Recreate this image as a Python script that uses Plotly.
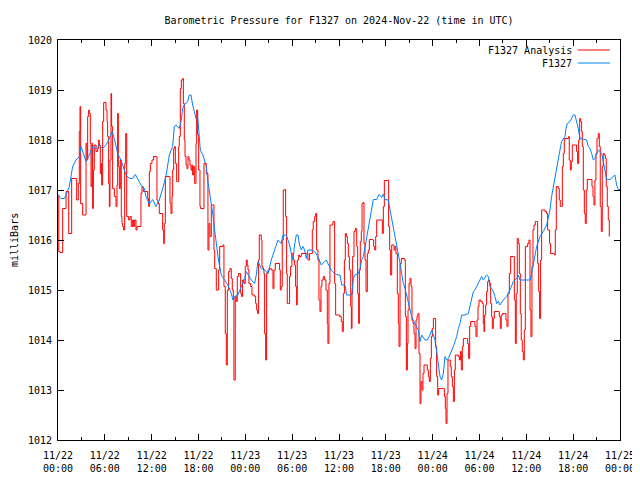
import pandas as pd
import plotly.graph_objects as go

# ---------------- data (hours after 2024-11-22 00:00 UTC, millibars) ----------------
analysis_hours = [
    0.0, 0.1, 0.26, 0.6, 1.03, 1.37, 1.75, 2.39, 2.6, 2.73, 2.82, 2.9, 3.16, 3.59, 3.71, 3.8, 3.93, 4.01,
    4.14, 4.23, 4.36, 4.44, 4.53, 4.65, 4.87, 5.08, 5.21, 5.29, 5.42, 5.51, 5.59, 5.72, 5.85, 6.15,
    6.28, 6.36, 6.49, 6.58, 6.66, 6.79, 6.87, 7.0, 7.22, 7.43, 7.56, 7.64, 7.73, 7.86, 7.98, 8.11,
    8.2, 8.28, 8.41, 8.54, 8.67, 8.8, 9.05, 9.22, 9.39, 9.56, 9.69, 9.82, 9.99, 10.12, 10.5, 10.63,
    10.76, 10.93, 11.49, 11.61, 11.7, 11.83, 12.04, 12.25, 12.55, 12.68, 12.81, 12.98, 13.32, 13.41,
    13.54, 13.62, 13.75, 14.26, 14.35, 14.47, 14.6, 14.69, 14.82, 14.94, 15.03, 15.2, 15.37, 15.46,
    15.54, 15.67, 15.8, 15.97, 16.06, 16.18, 16.27, 16.4, 16.52, 16.65, 16.78, 16.91, 17.04, 17.16,
    17.25, 17.38, 17.51, 17.68, 17.76, 17.89, 18.02, 18.19,
    18.27, 18.7, 19.0, 19.21, 19.34, 19.47, 19.64, 19.98, 20.07, 20.28, 20.58, 20.71, 21.13, 21.26,
    21.43, 21.56, 21.69, 21.86, 22.03, 22.2, 22.33, 22.46, 22.54, 22.71, 22.84, 22.97, 23.14, 23.4,
    23.52, 23.65, 23.82, 23.99, 24.12, 24.25, 24.34, 24.46, 24.68, 24.85, 25.19, 25.32, 25.45, 25.57,
    25.7, 25.79, 26.04, 26.13, 26.26, 26.38, 26.47, 26.6, 26.73, 26.9, 27.11, 27.32, 27.54, 27.67,
    27.84, 28.39, 28.48, 28.6, 28.73, 28.86, 29.03, 29.16, 29.29, 29.37, 29.54, 29.67, 29.8, 29.97,
    30.14, 30.31, 30.44, 30.57, 30.65, 30.83, 30.95, 31.17, 31.81, 32.02, 32.23, 32.45, 32.58, 32.7,
    32.88, 33.0, 33.13, 33.3, 33.43, 33.56, 33.69, 33.81, 33.98, 34.16, 34.33, 34.5, 34.58, 34.71,
    34.84, 35.01, 35.22, 35.35, 35.44, 35.57, 36.08, 36.29, 36.42,
    36.56, 36.69, 36.81, 36.94, 37.07, 37.2, 37.33, 37.5, 37.58, 37.67, 37.75, 37.92, 38.09, 38.27,
    38.39, 38.52, 38.61, 38.73, 38.86, 38.95, 39.08, 39.2, 39.33, 39.46, 39.63, 39.76, 39.89, 40.31,
    40.44, 40.57, 40.7, 40.83, 41.42, 41.55, 41.68, 41.81, 42.24, 42.36, 42.49, 42.62, 42.75, 43.05,
    43.18, 43.3, 43.47, 43.6, 43.69, 43.82, 43.99, 44.37, 44.5, 44.63, 44.76, 44.84, 44.97, 45.1,
    45.23, 45.35, 45.48, 45.61, 45.74, 45.87, 45.99, 46.12, 46.25, 46.38, 46.5, 46.63, 46.76, 46.89,
    47.15, 47.32, 47.45, 47.57, 47.7, 47.83, 47.96, 48.09, 48.3, 48.38, 48.51, 48.64, 48.77, 49.37,
    49.5, 49.62, 49.71, 49.84, 49.96, 50.14, 50.26, 50.39, 50.52, 50.65, 50.78, 50.9, 51.29, 51.42,
    51.55, 51.67, 51.8, 51.93, 52.36, 52.48, 52.61, 52.74, 52.87, 53.3, 53.42, 53.55, 53.68, 53.81,
    53.94, 54.15, 54.36, 54.49, 54.57,
    54.66, 54.79, 54.91, 55.04, 55.17, 55.3, 55.43, 55.55, 55.64, 55.77, 55.9, 56.41, 56.54, 56.66,
    56.79, 56.96, 57.26, 57.39, 57.52, 57.65, 57.82, 57.99, 58.33, 58.46, 58.59, 58.71, 58.84, 58.97,
    59.1, 59.23, 59.35, 59.48, 59.61, 59.74, 59.87, 60.17, 60.34, 60.47, 60.59, 60.72, 60.85, 60.98,
    61.15, 61.32, 61.45, 61.58, 61.7, 61.83, 61.96, 62.39, 62.6, 62.73, 62.98, 63.11, 63.45, 63.58,
    63.71, 63.84, 64.09, 64.22, 64.35, 64.48, 64.61, 64.74, 64.86, 65.42, 65.5, 65.63, 65.76, 65.89,
    66.31, 66.44, 66.57, 66.7, 66.83, 66.96, 67.08, 67.17, 67.3, 67.43, 67.55, 67.68, 67.81, 68.28,
    68.41, 68.54, 68.66, 68.79, 68.92, 69.05, 69.22, 69.35, 69.47, 69.6, 69.73, 69.86, 69.99, 70.12,
    70.24, 70.37, 70.5, 70.63,
]
analysis_mb = [
    1016.9, 1015.77, 1015.75, 1016.63, 1016.97, 1016.13, 1017.23, 1016.8, 1017.13, 1018.17, 1018.67, 1016.73, 1016.5, 1017.93, 1017.6, 1018.47, 1018.6, 1018.53,
    1017.93, 1017.07, 1017.93, 1016.63, 1017.4, 1017.9, 1017.77, 1017.83, 1018.0, 1017.9, 1017.33, 1017.53, 1017.1, 1018.37, 1018.75, 1018.6,
    1018.37, 1018.07, 1017.13, 1016.67, 1017.6, 1018.93, 1018.27, 1017.03, 1016.87, 1016.67, 1017.1, 1018.53, 1017.47, 1017.03, 1017.6, 1016.47,
    1016.33, 1016.27, 1016.2, 1017.53, 1018.13, 1016.47, 1016.4, 1016.47, 1016.27, 1016.4, 1016.27, 1016.4, 1016.2, 1016.27, 1016.27, 1016.93,
    1017.07, 1016.97, 1016.83, 1016.67, 1017.37, 1017.53, 1017.6, 1017.67, 1017.67, 1016.8, 1016.73, 1016.53, 1016.53, 1016.2,
    1015.93, 1016.33, 1017.27, 1017.27, 1016.73, 1016.53, 1016.87, 1017.4, 1017.83, 1017.87, 1017.53, 1017.17, 1017.17, 1017.87,
    1018.07, 1019.03, 1019.2, 1019.23, 1018.73, 1018.0, 1017.67, 1017.5, 1017.43, 1017.67, 1017.6, 1017.5, 1017.4, 1017.5,
    1017.3, 1017.47, 1017.13, 1017.93, 1018.6, 1018.1, 1017.4, 1016.67,
    1016.63, 1017.53, 1017.33, 1015.8, 1016.33, 1016.07, 1016.7, 1015.8, 1015.43, 1015.0, 1015.4, 1015.87, 1015.9, 1015.07,
    1014.13, 1013.5, 1015.0, 1015.37, 1015.43, 1015.23, 1015.0, 1014.87, 1013.2, 1014.87, 1014.77, 1015.27, 1015.33, 1014.93,
    1014.87, 1015.2, 1015.13, 1015.47, 1015.6, 1015.5, 1015.4, 1015.13, 1015.07, 1014.9, 1014.87, 1014.73, 1014.6, 1014.53,
    1015.6, 1016.1, 1016.0, 1015.47, 1015.43, 1015.33, 1014.13, 1013.6, 1015.33, 1015.4, 1015.43, 1015.4, 1015.03, 1015.4,
    1015.53, 1015.4, 1015.0, 1015.07, 1016.0, 1017.0, 1017.01, 1016.47, 1015.33, 1014.73, 1014.73, 1015.27, 1015.47, 1015.73,
    1015.6, 1015.5, 1015.07, 1014.7, 1015.6, 1015.7, 1015.67, 1015.73, 1015.73, 1015.6, 1015.73, 1015.73, 1016.2, 1016.37,
    1016.47, 1016.53, 1015.8, 1015.6, 1014.8, 1014.57, 1015.07, 1015.2, 1015.27, 1015.2, 1015.0, 1014.33, 1013.93, 1015.13,
    1016.3, 1016.3, 1016.37, 1016.37, 1015.13, 1014.5, 1014.47, 1014.37, 1014.17,
    1014.93, 1015.6, 1016.13, 1016.07, 1015.93, 1015.67, 1015.4, 1014.67, 1014.23, 1014.93, 1015.67, 1016.17, 1016.23, 1015.87,
    1014.93, 1014.33, 1015.4, 1015.97, 1016.17, 1016.73, 1016.75, 1015.93, 1015.6, 1014.97, 1015.73, 1015.8, 1016.01, 1016.0,
    1015.87, 1015.8, 1016.07, 1016.4, 1016.4, 1016.13, 1016.67, 1017.19, 1017.2, 1016.27, 1015.8, 1015.3, 1015.9, 1015.8,
    1015.87, 1015.73, 1014.93, 1014.33, 1013.87, 1015.53, 1015.63, 1015.6, 1014.47, 1013.4, 1013.93, 1014.6, 1015.13, 1015.23,
    1015.07, 1014.4, 1014.33, 1014.13, 1013.83, 1014.4, 1014.47, 1014.53, 1013.73, 1012.73, 1013.17, 1013.0, 1013.33, 1013.5,
    1013.5, 1013.4, 1013.27, 1013.17, 1013.63, 1014.07, 1014.23, 1014.43, 1014.43, 1013.87, 1013.27, 1012.9, 1013.03, 1013.03,
    1012.87, 1012.63, 1012.33, 1012.93, 1013.6, 1013.6, 1013.47, 1013.27, 1013.07, 1012.77, 1013.4, 1013.7, 1013.67, 1013.6,
    1013.77, 1013.4, 1013.87, 1014.03, 1014.03, 1013.93, 1013.63, 1014.27, 1014.37, 1014.37, 1014.27, 1014.07, 1014.4, 1014.67,
    1014.8, 1014.77, 1014.73, 1014.33, 1014.17,
    1014.5, 1014.7, 1014.97, 1015.17, 1015.2, 1015.13, 1014.73, 1014.47, 1014.23, 1014.43, 1014.57, 1014.57, 1014.47, 1014.23,
    1014.5, 1014.53, 1014.53, 1014.4, 1014.27, 1014.93, 1015.33, 1015.67, 1015.67, 1014.8, 1013.93, 1014.93, 1016.03, 1015.93,
    1015.33, 1014.53, 1014.0, 1013.77, 1013.6, 1014.2, 1015.87, 1015.93, 1016.0, 1014.6, 1014.07, 1015.47, 1016.2, 1016.3,
    1016.37, 1016.37, 1015.53, 1014.97, 1014.43, 1015.6, 1016.6, 1016.57, 1016.53, 1016.2, 1015.93, 1015.73, 1015.73, 1015.7,
    1016.2, 1017.07, 1017.03, 1016.8, 1016.67, 1016.67, 1017.47, 1017.73, 1018.03, 1018.07, 1017.6, 1017.4, 1017.57, 1017.9,
    1017.9, 1017.77, 1017.53, 1018.0, 1018.43, 1018.37, 1018.17, 1017.87, 1017.0, 1016.53, 1016.33, 1017.0, 1017.21, 1017.21,
    1017.07, 1016.87, 1016.7, 1017.2, 1017.73, 1018.03, 1018.13, 1017.87, 1016.67, 1016.17, 1017.47, 1017.73, 1017.7, 1017.63,
    1017.07, 1016.67, 1016.4, 1016.07,
]

station_hours = [
    0.0, 0.38, 0.81, 1.03, 1.45, 1.67, 1.88, 2.31, 2.73, 2.95, 3.16, 3.59, 4.01, 4.44, 4.87, 5.3, 5.72,
    6.15, 6.58, 6.92, 7.22, 7.64, 8.07, 8.5, 8.71, 9.14, 9.56, 9.91, 10.2, 10.63, 11.06, 11.27, 11.7,
    12.13, 12.55, 12.98, 13.41, 13.83, 14.26, 14.69, 14.9, 15.12, 15.54, 15.76, 15.97, 16.18, 16.61,
    16.82, 17.04, 17.25, 17.68, 17.89, 18.1, 18.23, 18.57, 19.0, 19.21, 19.42, 19.64, 19.85, 20.07,
    20.28, 20.49, 20.71, 20.92, 21.35, 21.77, 22.2, 22.41, 22.63, 23.05, 23.48, 23.91, 24.12, 24.34,
    24.76, 25.19, 25.4, 25.62, 26.04, 26.47, 26.9, 27.32, 27.75, 28.18, 28.6, 28.82, 29.25, 29.67,
    29.89, 30.1, 30.31, 30.53, 30.74, 30.95, 31.17, 31.38, 31.59, 31.81, 32.02, 32.45, 32.88, 33.3,
    33.73, 34.16, 34.37, 34.58, 35.01, 35.44, 35.86, 36.13, 36.35, 36.77, 36.98, 37.62, 37.84, 38.05,
    38.48, 38.69, 38.9, 39.12, 39.33, 39.55, 39.76, 39.97, 40.19, 40.4, 40.83, 41.13, 41.47, 41.68,
    41.89, 42.32, 42.54, 42.75, 42.96, 43.18, 43.39, 43.6, 43.82, 44.03, 44.24, 44.46, 44.67, 44.88,
    45.1, 45.31, 45.52, 45.74, 46.16, 46.38, 46.59, 47.02, 47.32, 47.66, 47.87, 48.09, 48.3, 48.51,
    48.73, 48.94, 49.15, 49.37, 49.58, 49.79, 50.0, 50.22, 50.65, 50.86, 51.08, 51.29, 51.5, 51.72,
    52.14, 52.57, 52.78, 53.0, 53.21, 53.42, 53.64, 53.85, 54.06, 54.27, 54.49, 54.91, 55.13, 55.34,
    55.55, 55.77, 55.98, 56.2, 56.41, 56.62, 57.05, 57.48, 57.9, 58.33, 58.76, 58.97, 59.18, 59.61,
    60.47, 60.68, 60.89, 61.1, 61.32, 61.75, 62.17, 62.6, 62.81, 63.03, 63.24, 63.45, 63.67, 63.88,
    64.09, 64.31, 64.52, 64.74, 64.95, 65.08, 65.25, 65.59, 65.8, 66.02, 66.23, 66.44, 66.66, 66.87,
    67.3, 67.72, 67.94, 68.15, 68.37, 68.58, 68.79, 69.01, 69.22, 69.43, 69.65, 69.86, 70.07, 70.29,
    70.71, 71.14, 71.35, 71.57, 71.78, 72.0,
]
station_mb = [
    1016.9, 1016.83, 1016.83, 1016.9, 1017.07, 1017.27, 1017.47, 1017.6, 1017.67, 1017.87, 1017.77, 1017.57, 1017.7, 1017.87, 1017.83, 1017.9, 1017.83,
    1017.9, 1018.03, 1018.17, 1018.03, 1017.73, 1017.6, 1017.4, 1017.3, 1017.23, 1017.23, 1017.31, 1017.23, 1017.1, 1017.03, 1016.87, 1016.72,
    1016.81, 1016.67, 1016.8, 1017.03, 1017.27, 1017.7, 1017.87, 1018.27, 1018.3, 1018.23, 1018.37, 1018.63, 1018.7, 1018.77,
    1018.9, 1018.9, 1018.7, 1018.43, 1018.47, 1018.07, 1017.8, 1017.7, 1017.47, 1017.17, 1016.97, 1016.73, 1016.5, 1016.2,
    1015.87, 1015.67, 1015.47, 1015.3, 1015.2, 1015.1, 1014.93, 1014.8, 1014.87, 1014.9, 1015.07, 1015.23, 1015.37, 1015.3,
    1015.2, 1015.13, 1015.3, 1015.57, 1015.43, 1015.4, 1015.33, 1015.6, 1015.8, 1016.0, 1015.93, 1016.1, 1016.1, 1015.9,
    1015.73, 1015.6, 1015.9, 1016.1, 1016.1, 1015.9, 1015.8, 1015.87, 1015.8, 1015.63, 1015.8, 1015.8, 1015.77, 1015.67,
    1015.5, 1015.57, 1015.6, 1015.53, 1015.4, 1015.33, 1015.3, 1015.3, 1015.1, 1015.1, 1014.9, 1014.9, 1015.23, 1015.3,
    1015.33, 1015.43, 1015.6, 1015.67, 1015.87, 1016.03, 1016.27, 1016.43, 1016.6, 1016.81, 1016.81, 1016.91, 1016.85, 1016.92,
    1016.81, 1016.8, 1016.6, 1016.43, 1016.23, 1016.1, 1015.9, 1015.77, 1015.53, 1015.33, 1015.13, 1015.03, 1014.9, 1014.73,
    1014.6, 1014.47, 1014.4, 1014.33, 1014.2, 1013.97, 1014.1, 1014.0, 1014.0, 1014.1, 1014.2, 1014.1, 1014.0, 1013.77,
    1013.47, 1013.27, 1013.2, 1013.33, 1013.67, 1013.6, 1013.63, 1013.7, 1013.87, 1013.97, 1014.07, 1014.23, 1014.33, 1014.5,
    1014.5, 1014.53, 1014.7, 1014.87, 1014.97, 1015.0, 1015.07, 1015.13, 1015.2, 1015.27, 1015.2, 1015.3, 1015.27, 1015.07,
    1015.03, 1014.97, 1014.87, 1014.73, 1014.77, 1014.7, 1014.8, 1014.87, 1015.0, 1015.17, 1015.23, 1015.3, 1015.2, 1015.2,
    1015.2, 1015.33, 1015.53, 1015.73, 1015.87, 1016.07, 1016.17, 1016.3, 1016.43, 1016.6, 1016.87, 1017.07, 1017.27, 1017.43,
    1017.6, 1017.8, 1017.97, 1018.01, 1018.07, 1018.23, 1018.33, 1018.37, 1018.43, 1018.5, 1018.5, 1018.37, 1018.23, 1018.03,
    1018.01, 1018.0, 1017.87, 1017.83, 1017.73, 1017.6, 1017.63, 1017.7, 1017.8, 1017.77, 1017.73, 1017.57, 1017.37, 1017.21,
    1017.21, 1017.27, 1017.3, 1017.1, 1017.01, 1017.01,
]

start = pd.Timestamp("2024-11-22 00:00")
tick_hours = list(range(0, 73, 6))
minor_hours = list(range(3, 72, 6))
tick_labels = ["11/22<br>00:00", "11/22<br>06:00", "11/22<br>12:00", "11/22<br>18:00",
               "11/23<br>00:00", "11/23<br>06:00", "11/23<br>12:00", "11/23<br>18:00",
               "11/24<br>00:00", "11/24<br>06:00", "11/24<br>12:00", "11/24<br>18:00",
               "11/25<br>00:00"]
y_ticks = list(range(1012, 1021))

series_names = ["F1327 Analysis", "F1327"]
series_colors = ["#ff0000", "#0080ff"]


def to_time(hours):
    return [start + pd.Timedelta(hours=h) for h in hours]


FONT = "DejaVu Sans Mono"

fig = go.Figure()
fig.add_trace(go.Scatter(x=to_time(analysis_hours), y=analysis_mb, mode="lines",
                         name=series_names[0], line=dict(color=series_colors[0], width=1, shape="hv")))
fig.add_trace(go.Scatter(x=to_time(station_hours), y=station_mb, mode="lines",
                         name=series_names[1], line=dict(color=series_colors[1], width=1)))

# the page body adds an 8px offset, so margins are set to land the plot at 58..620 x 40..440
fig.update_layout(
    width=640, height=480,
    margin=dict(l=50, r=28, t=32, b=48, autoexpand=False),
    paper_bgcolor="white", plot_bgcolor="white",
    showlegend=False,
    font=dict(family=FONT, size=10, color="black"),
    title=dict(text="Barometric Pressure for F1327 on 2024-Nov-22 (time in UTC)",
               x=0.5, xref="paper", xanchor="center",
               y=1 - 12 / 480, yref="container", yanchor="middle",
               font=dict(family=FONT, size=10, color="black")),
)
fig.update_xaxes(
    range=[start, start + pd.Timedelta(hours=72)],
    tickmode="array", tickvals=to_time(tick_hours), ticktext=tick_labels,
    ticks="inside", ticklen=6, tickcolor="black", tickwidth=1,
    showline=True, linecolor="black", linewidth=1, mirror="ticks",
    showgrid=False, zeroline=False, automargin=False, ticklabelstandoff=6,
    minor=dict(tickmode="array", tickvals=to_time(minor_hours), ticks="inside",
               ticklen=3, tickcolor="black", showgrid=False),
    tickfont=dict(family=FONT, size=10, color="black"),
)
fig.update_yaxes(
    range=[1012, 1020], tickmode="array", tickvals=y_ticks,
    ticks="inside", ticklen=6, tickcolor="black", tickwidth=1,
    showline=True, linecolor="black", linewidth=1, mirror="ticks",
    showgrid=False, zeroline=False, ticklabelstandoff=3, automargin=False,
    tickfont=dict(family=FONT, size=10, color="black"),
)

# y-axis title (kept just inside the figure's left edge)
fig.add_annotation(text="milliBars", xref="paper", yref="paper", x=0, y=0.5,
                   xanchor="center", yanchor="middle", xshift=-44, textangle=-90,
                   showarrow=False, font=dict(family=FONT, size=10, color="black"))

# gnuplot-style key: text to the left of the line sample
key_rows = [0.975, 0.9425]
for name, color, ky in zip(series_names, series_colors, key_rows):
    fig.add_annotation(text=name, xref="paper", yref="paper", x=0.918, y=ky,
                       xanchor="right", yanchor="middle", showarrow=False,
                       font=dict(family=FONT, size=10, color="black"))
    fig.add_shape(type="line", xref="paper", yref="paper", x0=0.9253, x1=0.9822,
                  y0=ky, y1=ky, line=dict(color=color, width=1))

fig.write_html("out.html")
